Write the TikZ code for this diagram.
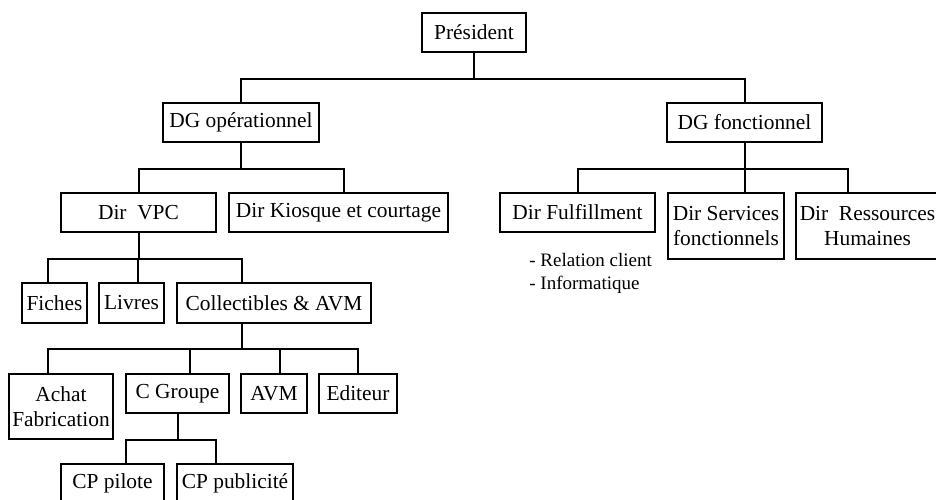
\documentclass[tikz,border=0pt]{standalone}
\usepackage{fontspec}
\setmainfont{Liberation Serif}
\usetikzlibrary{calc, positioning}

\tikzset{
  unit/.style={draw, line width=1pt, inner sep=0pt, align=center, font=\fontsize{10.7}{12.5}\selectfont},
  link/.style={line width=1pt}
}

\begin{document}
\begin{tikzpicture}[x=0.5pt, y=-0.5pt]
\useasboundingbox (0,0) rectangle (936,499);
\clip (0,0) rectangle (936,499);
\node[unit, minimum width=52pt, minimum height=19.5pt] (pres) at (474, 32.5) {Président};
\node[unit, minimum width=78pt, minimum height=19.5pt] (dgo) at (241, 122.5) {DG opérationnel};
\node[unit, minimum width=77.5pt, minimum height=19.5pt] (dgf) at (744.5, 122.5) {DG fonctionnel};
\node[unit, minimum width=77.5pt, minimum height=19.5pt] (vpc) at (138.5, 212.5) {Dir~~VPC};
\node[unit, minimum width=109.5pt, minimum height=19.5pt] (kio) at (338.5, 212.5) {Dir Kiosque et courtage};
\node[unit, minimum width=77.5pt, minimum height=19.5pt] (ful) at (577.5, 212.5) {Dir Fulfillment};
\node[unit, minimum width=58pt, minimum height=33pt] (serv) at (726, 226) {Dir Services\\fonctionnels};
\node[unit, minimum width=71.5pt, minimum height=33pt] (rh) at (867.5, 226) {Dir~~Ressources\\Humaines};
\node[anchor=north west, align=left, inner sep=0pt, font=\fontsize{9.5}{11.5}\selectfont] (ful-notes) at (529, 253) {- Relation client\\- Informatique};
\node[unit, minimum width=32.5pt, minimum height=20pt] (fiches) at (54.5, 303) {Fiches};
\node[unit, minimum width=32.5pt, minimum height=20pt] (livres) at (131.5, 303) {Livres};
\node[unit, minimum width=97pt, minimum height=20pt] (coll) at (274, 303) {Collectibles \& AVM};
\node[unit, minimum width=52pt, minimum height=32.5pt] (achat) at (61, 406.5) {Achat\\Fabrication};
\node[unit, minimum width=51.5pt, minimum height=19.5pt] (cgr) at (177.5, 393.5) {C Groupe};
\node[unit, minimum width=33pt, minimum height=19.5pt] (avm) at (274, 393.5) {AVM};
\node[unit, minimum width=39pt, minimum height=19.5pt] (edit) at (358, 393.5) {Editeur};
\node[unit, minimum width=51.5pt, minimum height=19.5pt] (cpp) at (112.5, 483.5) {CP pilote};
\node[unit, minimum width=58pt, minimum height=19.5pt] (cppub) at (235, 483.5) {CP publicité};
\draw[link] (pres.south) -- ++(0,26) -| (dgo.north);
\draw[link] (pres.south) -- ++(0,26) -| (dgf.north);
\draw[link] (dgo.south) -- ++(0,26) -| (vpc.north);
\draw[link] (dgo.south) -- ++(0,26) -| ($(kio.north)+(5.5,0)$);
\draw[link] (dgf.south) -- ++(0,26) -| (ful.north);
\draw[link] (dgf.south) -- ++(0,26) -| ($(serv.north)+(19,0)$);
\draw[link] (dgf.south) -- ++(0,26) -| ($(rh.north)+(-19.5,0)$);
\draw[link] (vpc.south) -- ++(0,26) -| ($(fiches.north)+(-6.5,0)$);
\draw[link] (vpc.south) -- ++(0,26) -| ($(livres.north)+(6.5,0)$);
\draw[link] (vpc.south) -- ++(0,26) -| ($(coll.north)+(-32,0)$);
\draw[link] ($(coll.south)+(-32,0)$) -- ++(0,25) -| ($(achat.north)+(-13,0)$);
\draw[link] ($(coll.south)+(-32,0)$) -- ++(0,25) -| ($(cgr.north)+(12.5,0)$);
\draw[link] ($(coll.south)+(-32,0)$) -- ++(0,25) -| ($(avm.north)+(6,0)$);
\draw[link] ($(coll.south)+(-32,0)$) -- ++(0,25) -| (edit.north);
\draw[link] (cgr.south) -- ++(0,26) -| ($(cpp.north)+(13.5,0)$);
\draw[link] (cgr.south) -- ++(0,26) -| ($(cppub.north)+(-19,0)$);
\end{tikzpicture}
\end{document}
